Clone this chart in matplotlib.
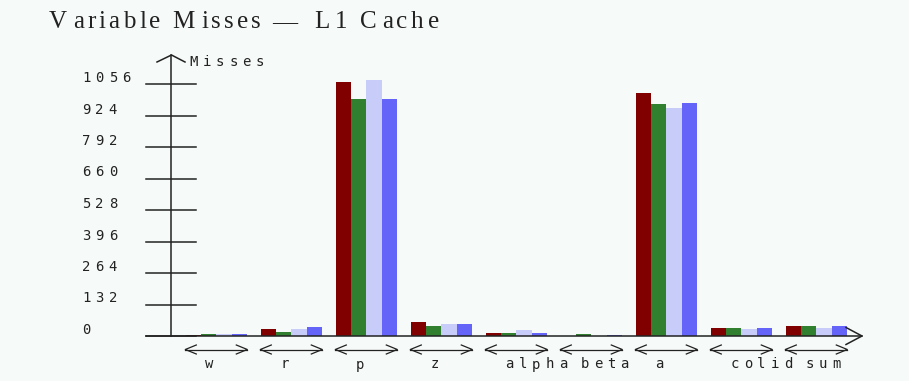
import matplotlib
matplotlib.use("Agg")
import matplotlib.pyplot as plt
import matplotlib.transforms as mtransforms
from matplotlib.font_manager import FontProperties
import numpy as np

variables = ["w", "r", "p", "z", "alpha", "beta", "a", "colid", "sum"]
misses_1 = [5, 31, 1066, 60, 14, 0, 1020, 32, 40]
misses_2 = [10, 18, 992, 43, 14, 8, 973, 32, 40]
misses_3 = [8, 31, 1074, 51, 25, 0, 957, 28, 32]
misses_4 = [9, 36, 992, 51, 14, 4, 978, 32, 40]
yticks = [0, 132, 264, 396, 528, 660, 792, 924, 1056]

colors = ["#800000", "#308030", "#c8ccf8", "#6464f8"]
bg = "#f6faf8"
ink = "#222222"

W, H = 909, 381
fig = plt.figure(figsize=(W / 100, H / 100), dpi=100, facecolor=bg)
ax = fig.add_axes([0, 0, 1, 1])
ax.set_facecolor(bg)
ax.axis("off")

# pixel layout: group 0 centred at x=216, 75px per group; y=0 at row 336, 1056 at row 84
x0, step = 216.3, 75.0
base, top, top_val = 336.0, 84.0, 1056.0
per_px = top_val / (base - top)
ax.set_xlim(-x0 / step, (W - x0) / step)
ax.set_ylim(-(H - base) * per_px, base * per_px)


def gx(px):
    return (px - x0) / step


def vy(py):
    return (base - py) * per_px


renderer = fig.canvas.get_renderer()
small = dict(family="DejaVu Sans Mono", size=10, stretch=1.6)


def spread_text(x, y, s, transform, family, size, stretch, dx0=0.0, dy=0.0):
    # draw characters one by one with a widened advance
    prop = FontProperties(family=family, size=size)
    ref = renderer.get_text_width_height_descent("||", prop, ismath=False)[0]
    dx = dx0
    for ch in s:
        tr = mtransforms.offset_copy(transform, fig=fig, x=dx, y=dy, units="dots")
        ax.text(x, y, ch, transform=tr, fontproperties=prop, color=ink,
                ha="left", va="baseline")
        w = renderer.get_text_width_height_descent("|" + ch + "|", prop, ismath=False)[0] - ref
        dx += w * stretch


# bars
idx = np.arange(len(variables))
bw = 15.2 / step
for k, (vals, c) in enumerate(zip([misses_1, misses_2, misses_3, misses_4], colors)):
    ax.bar(idx + (k - 1.5) * bw, vals, width=bw, color=c, linewidth=0, zorder=2)

lw = 1.1
# y axis with arrow
ax.plot([gx(171), gx(171)], [0, vy(55)], color=ink, lw=lw, zorder=3)
ax.plot([gx(157), gx(171.5), gx(185)], [vy(62), vy(55), vy(62)], color=ink, lw=lw, zorder=3)
# x axis with arrow
ax.plot([gx(146), gx(862)], [0, 0], color=ink, lw=lw, zorder=3)
ax.plot([gx(846), gx(862), gx(846)], [vy(327.5), 0, vy(344.5)], color=ink, lw=lw, zorder=3)

# y ticks and labels
for t in yticks:
    ax.plot([gx(146), gx(195.5)], [t, t], color=ink, lw=lw, zorder=3)
    spread_text(gx(82), t, str(t), ax.transData, dy=2, **small)

spread_text(gx(189), vy(66), "Misses", ax.transData, **small)

# group arrows and labels
for i, name in enumerate(variables):
    cx = x0 + step * i
    yl = vy(349.5)
    ax.plot([gx(cx - 31), gx(cx + 31)], [yl, yl], color=ink, lw=0.9)
    ax.plot([gx(cx - 20), gx(cx - 31), gx(cx - 20)], [vy(345), yl, vy(354)], color=ink, lw=0.9)
    ax.plot([gx(cx + 20), gx(cx + 31), gx(cx + 20)], [vy(345), yl, vy(354)], color=ink, lw=0.9)
    spread_text(i, vy(368.5), name, ax.transData, dx0=-11, **small)

# title
spread_text(49, H - 28, "Variable Misses \u2014 L1 Cache", mtransforms.IdentityTransform(),
            "Liberation Serif", 18, 1.33)

fig.savefig("out.png", dpi=100, facecolor=bg)
